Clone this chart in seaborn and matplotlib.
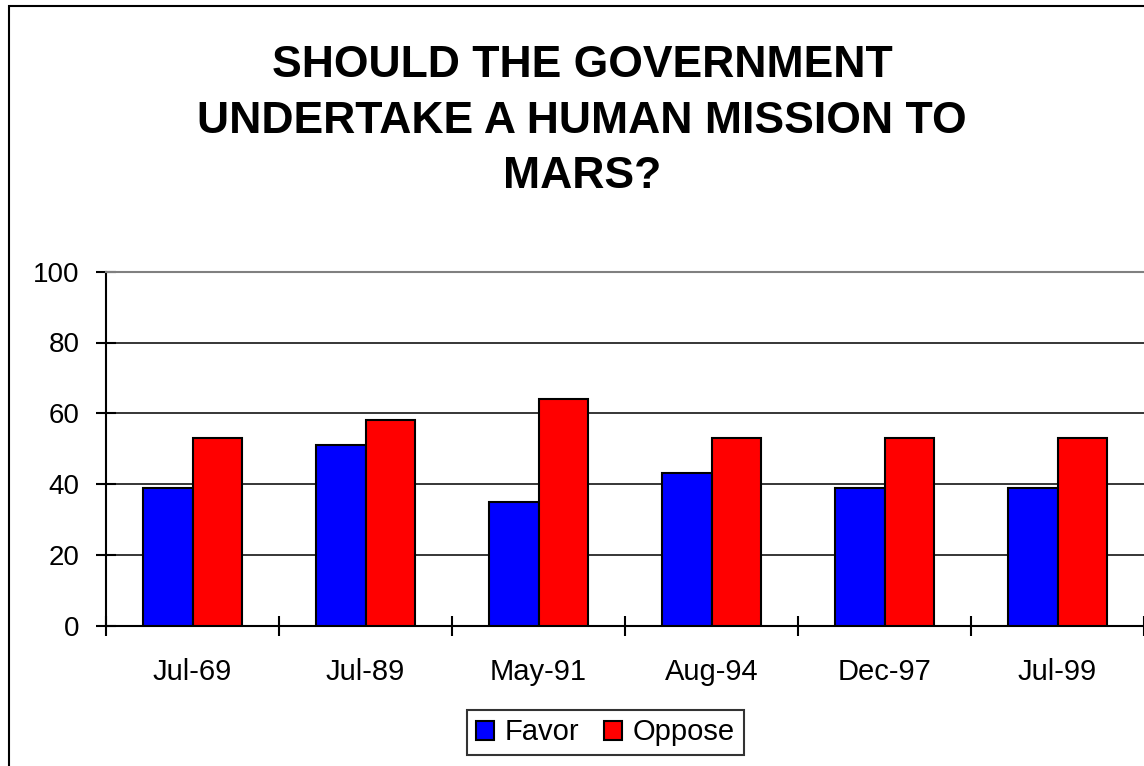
import matplotlib
matplotlib.use("Agg")
import matplotlib.pyplot as plt
import seaborn as sns
import pandas as pd
from matplotlib.patches import Rectangle
from matplotlib.ticker import FixedLocator

# ---- data ----
dates = ["Jul-69", "Jul-89", "May-91", "Aug-94", "Dec-97", "Jul-99"]
favor = [39, 51, 35, 43, 39, 39]
oppose = [53, 58, 64, 53, 53, 53]
series_names = ["Favor", "Oppose"]
y_ticks = [0, 20, 40, 60, 80, 100]
title_lines = ["SHOULD THE GOVERNMENT", "UNDERTAKE A HUMAN MISSION TO", "MARS?"]

df = pd.DataFrame({
    "date": dates * 2,
    "value": favor + oppose,
    "series": [series_names[0]] * len(dates) + [series_names[1]] * len(dates),
})

sns.set_theme(style="white")
plt.rcParams["font.family"] = ["Liberation Sans", "DejaVu Sans"]

W, H = 1144, 766
fig = plt.figure(figsize=(W / 100, H / 100), dpi=100)
fig.patch.set_facecolor("white")

# outer chart border (extends past right/bottom edges)
fig.patches.append(Rectangle((9 / W, -0.05), 1.2, 1 - 5.8 / H + 0.05,
                             transform=fig.transFigure, fill=False,
                             edgecolor="black", linewidth=1.5, zorder=0))

ax = fig.add_axes([106 / W, 1 - 625.7 / H, 1.0 - 106 / W, (625.7 - 271.7) / H])

sns.barplot(data=df, x="date", y="value", hue="series",
            palette=["#0000ff", "#ff0000"], saturation=1,
            edgecolor="black", linewidth=1.5,
            width=0.567, gap=0, ax=ax, zorder=3)

ax.set_ylim(0, 100)
ax.set_xlim(-0.5, len(dates) - 0.5)
ax.set_xlabel("")
ax.set_ylabel("")
ax.set_yticks(y_ticks)
ax.set_yticklabels([str(v) for v in y_ticks])

# gridlines
for v in y_ticks[1:-1]:
    ax.axhline(v, color="black", linewidth=1.1, zorder=1)

for s in ["left", "bottom"]:
    ax.spines[s].set_color("black")
    ax.spines[s].set_linewidth(1.5)
ax.spines["top"].set_color("#808080")
ax.spines["top"].set_linewidth(1.5)
ax.spines["right"].set_visible(False)

ax.tick_params(axis="y", direction="inout", length=14, width=1.5, color="black",
               pad=12, labelsize=20, labelcolor="black", left=True)
ax.tick_params(axis="x", which="major", length=0, pad=23, labelsize=21,
               labelcolor="black")
ax.xaxis.set_minor_locator(FixedLocator([i - 0.5 for i in range(len(dates) + 1)]))
ax.tick_params(axis="x", which="minor", direction="inout", length=14, width=1.5,
               color="black", bottom=True)

# legend
leg = ax.legend(loc="center", bbox_to_anchor=(605.5 / W, 1 - 732.5 / H),
                bbox_transform=fig.transFigure, ncol=2, frameon=True,
                fancybox=False, fontsize=21, handlelength=0.62,
                handleheight=0.62, handletextpad=0.36, columnspacing=0.85,
                borderpad=0.3, borderaxespad=0)
leg.get_frame().set_edgecolor("black")
leg.get_frame().set_linewidth(1.5)
for t in leg.get_texts():
    t.set_color("black")

# title
baselines = [77, 133, 188]
for line, yb in zip(title_lines, baselines):
    fig.text(582 / W, 1 - yb / H, line, ha="center", va="baseline",
             fontsize=32, fontweight="bold", color="black")

fig.savefig("out.png", dpi=100, facecolor="white")
